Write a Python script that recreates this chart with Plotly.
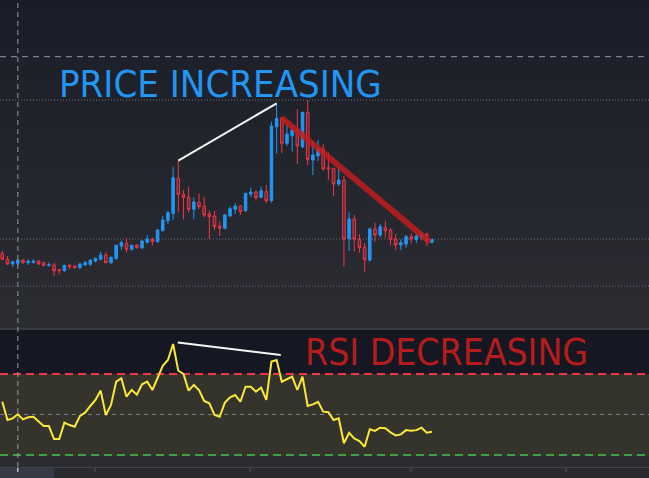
import plotly.graph_objects as go

W, H = 649, 478

# ---- data ----
idx = list(range(84))
opens = [7.67, 7.07, 6.60, 6.67, 7.00, 6.73, 6.73, 6.90, 6.73, 6.47,
         6.50, 6.03, 5.93, 6.50, 6.40, 6.23, 6.50, 6.57, 6.90, 7.07,
         7.50, 6.73, 7.17, 8.40, 8.67, 8.07, 8.50, 8.20, 8.77, 9.07,
         8.83, 9.93, 10.93, 11.67, 15.17, 13.57, 13.27, 12.07, 12.77, 12.40,
         11.60, 11.40, 10.40, 10.17, 11.40, 12.07, 12.40, 11.93, 13.60, 13.80,
         13.27, 13.83, 12.93, 20.33, 21.17, 18.67, 19.43, 20.00, 18.33, 21.77,
         17.00, 17.40, 18.07, 16.23, 16.17, 14.60, 15.00, 9.10, 11.10, 9.07,
         8.27, 7.00, 10.10, 9.50, 10.23, 10.00, 9.10, 8.50, 8.60, 9.33,
         9.07, 9.27, 9.57, 8.77]
highs = [7.90, 7.40, 6.90, 7.00, 7.10, 7.07, 7.10, 7.00, 6.83, 6.77,
         6.73, 6.10, 6.53, 6.50, 6.43, 6.73, 6.90, 7.07, 7.23, 7.83,
         7.80, 7.33, 8.50, 8.93, 9.17, 8.53, 8.60, 9.00, 9.50, 9.23,
         10.10, 11.40, 11.93, 16.33, 16.93, 14.00, 14.33, 13.27, 13.67, 13.33,
         11.93, 11.93, 10.83, 11.60, 12.33, 12.67, 12.50, 13.73, 14.23, 13.93,
         14.33, 14.50, 20.83, 22.67, 21.33, 20.67, 20.50, 22.07, 21.77, 23.00,
         18.83, 19.00, 18.60, 17.77, 16.17, 16.10, 15.40, 11.77, 11.50, 9.60,
         8.67, 10.23, 10.73, 10.60, 10.90, 10.17, 9.60, 9.07, 9.50, 9.67,
         9.60, 9.83, 9.73, 9.07]
lows = [7.00, 6.50, 6.33, 6.40, 6.60, 6.50, 6.67, 6.50, 6.40, 6.33,
        5.43, 5.57, 5.83, 6.07, 6.10, 6.13, 6.43, 6.40, 6.77, 7.00,
        6.67, 6.60, 7.00, 8.00, 7.73, 7.93, 8.13, 8.13, 8.67, 8.47,
        8.73, 9.83, 10.60, 11.00, 11.77, 11.07, 11.73, 11.07, 12.10, 11.27,
        9.10, 10.00, 9.40, 10.07, 11.33, 11.60, 11.50, 11.83, 13.33, 12.93,
        13.17, 12.67, 12.73, 17.67, 17.67, 18.40, 17.83, 16.60, 18.17, 16.50,
        15.50, 16.90, 15.93, 15.00, 13.40, 14.40, 6.33, 7.90, 7.83, 7.73,
        5.83, 6.83, 8.83, 9.27, 9.23, 8.50, 8.00, 8.00, 8.23, 8.67,
        8.73, 9.07, 8.40, 8.67]
closes = [7.07, 6.60, 6.83, 7.00, 6.73, 6.87, 6.87, 6.60, 6.43, 6.53,
          5.93, 5.97, 6.47, 6.33, 6.27, 6.60, 6.73, 7.00, 7.17, 7.50,
          6.73, 7.27, 8.47, 8.73, 8.07, 8.47, 8.23, 8.90, 9.10, 8.83,
          10.00, 11.00, 11.73, 15.23, 13.57, 13.27, 12.07, 12.80, 12.33, 11.50,
          11.33, 10.33, 10.17, 11.50, 12.13, 12.40, 11.83, 13.67, 13.80, 13.23,
          13.93, 12.93, 20.40, 21.17, 18.67, 19.60, 20.00, 18.40, 21.77, 17.07,
          17.50, 18.07, 16.10, 16.13, 14.60, 15.00, 9.10, 11.10, 9.07, 8.23,
          7.00, 10.10, 9.50, 10.33, 9.93, 9.07, 8.50, 8.73, 9.33, 9.10,
          9.40, 9.57, 8.93, 9.07]
rsi = [56.3, 47.3, 48.1, 50.1, 47.6, 48.6, 48.9, 46.5, 44.3, 44.3,
       37.9, 37.9, 46.0, 44.8, 44.0, 49.3, 50.9, 54.2, 57.2, 61.8,
       49.8, 54.7, 66.2, 67.9, 58.8, 62.1, 59.8, 64.9, 66.2, 62.1,
       67.9, 74.0, 76.9, 84.8, 71.6, 70.0, 61.8, 64.6, 62.1, 56.7,
       55.5, 49.8, 48.9, 55.9, 58.5, 59.6, 56.3, 63.7, 63.7, 61.3,
       63.3, 57.2, 76.1, 76.9, 66.2, 67.4, 68.7, 62.1, 68.7, 54.2,
       55.0, 56.3, 51.4, 51.1, 47.3, 48.1, 35.8, 41.0, 38.2, 36.9,
       34.1, 42.7, 41.9, 43.5, 43.2, 41.2, 39.7, 40.2, 42.3, 42.0,
       42.3, 43.5, 41.0, 41.5]

price_line_x = [34, 53]          # white divergence line on price
price_line_y = [16.93, 22.67]
down_line_x = [54, 82.6]         # red falling trend line
down_line_y = [21.2, 8.8]
rsi_line_x = [33.9, 53.8]        # white line on RSI
rsi_line_y = [85.5, 79.4]
price_grid = [23.0, 9.1, 4.4]
rsi_levels = [70, 50, 30]
cross_x, cross_y = 3, 27.33
time_ticks = [17.9, 47.9, 78.96, 108.9]

X_RANGE = [-0.444, 124.94]
P_RANGE = [0.2, 33.0]
R_RANGE = [24.1, 91.7]

def py(px):
    return 1 - px / H

PRICE_DOM = [py(328), 1.0]
RSI_DOM = [py(467), py(330)]

fig = go.Figure()

fig.add_trace(go.Candlestick(
    x=idx, open=opens, high=highs, low=lows, close=closes,
    increasing=dict(line=dict(color="#2196f3", width=1), fillcolor="#2196f3"),
    decreasing=dict(line=dict(color="#f23645", width=1), fillcolor="rgba(242,54,69,0.28)"),
    whiskerwidth=0, xaxis="x", yaxis="y", showlegend=False, hoverinfo="skip"))

fig.add_trace(go.Scatter(x=price_line_x, y=price_line_y, mode="lines",
                         line=dict(color="#f5f5f5", width=2), xaxis="x", yaxis="y",
                         showlegend=False, hoverinfo="skip"))
fig.add_trace(go.Scatter(x=down_line_x, y=down_line_y, mode="lines",
                         line=dict(color="rgba(198,28,28,0.82)", width=6), xaxis="x", yaxis="y",
                         showlegend=False, hoverinfo="skip"))

fig.add_trace(go.Scatter(x=idx, y=rsi, mode="lines",
                         line=dict(color="#fbe838", width=2), xaxis="x", yaxis="y2",
                         showlegend=False, hoverinfo="skip"))
fig.add_trace(go.Scatter(x=rsi_line_x, y=rsi_line_y, mode="lines",
                         line=dict(color="#f5f5f5", width=2), xaxis="x", yaxis="y2",
                         showlegend=False, hoverinfo="skip"))

shapes = []
# price pane gradient background
n = 33
top_c = (26, 29, 40)
bot_c = (44, 45, 50)
for k in range(n):
    y0 = k * 10
    y1 = min(328, (k + 1) * 10)
    t = (y0 + 5) / 328
    c = tuple(int(round(top_c[j] + (bot_c[j] - top_c[j]) * t)) for j in range(3))
    shapes.append(dict(type="rect", xref="paper", yref="paper", x0=0, x1=1,
                       y0=py(y1), y1=py(y0), line=dict(width=0),
                       fillcolor="rgb(%d,%d,%d)" % c, layer="below"))
# separator between panes
shapes.append(dict(type="rect", xref="paper", yref="paper", x0=0, x1=1,
                   y0=py(330), y1=py(328), line=dict(width=0), fillcolor="#3a3b41", layer="below"))
# RSI pane background
shapes.append(dict(type="rect", xref="paper", yref="paper", x0=0, x1=1,
                   y0=RSI_DOM[0], y1=RSI_DOM[1], line=dict(width=0), fillcolor="#151823", layer="below"))
shapes.append(dict(type="rect", xref="paper", yref="y2", x0=0, x1=1,
                   y0=R_RANGE[0], y1=30, line=dict(width=0), fillcolor="#2b2c31", layer="below"))
shapes.append(dict(type="rect", xref="paper", yref="y2", x0=0, x1=1,
                   y0=29.3, y1=70, line=dict(width=0), fillcolor="#34342d", layer="below"))
# bottom border of RSI pane
shapes.append(dict(type="line", xref="paper", yref="paper", x0=0, x1=1,
                   y0=py(467.5), y1=py(467.5), line=dict(color="#45464c", width=1)))

# price grid lines (dotted)
for g in price_grid:
    shapes.append(dict(type="line", xref="paper", yref="y", x0=0, x1=1, y0=g, y1=g,
                       line=dict(color="#6a6d78", width=1, dash="1px,2px"), layer="below"))
# RSI levels
lvl_style = {70: ("#f23645", "8px,5px", 2), 50: ("#7b7e88", "4px,4px", 1), 30: ("#43a047", "8px,5px", 2)}
for lv in rsi_levels:
    col, dsh, wd = lvl_style[lv]
    shapes.append(dict(type="line", xref="paper", yref="y2", x0=0, x1=1, y0=lv, y1=lv,
                       line=dict(color=col, width=wd, dash=dsh), layer="below"))

# crosshair
shapes.append(dict(type="line", xref="paper", yref="y", x0=0, x1=1, y0=cross_y, y1=cross_y,
                   line=dict(color="#9598a1", width=1, dash="6px,5px")))
shapes.append(dict(type="line", xref="x", yref="paper", x0=cross_x, x1=cross_x, y0=py(467), y1=1,
                   line=dict(color="#9598a1", width=1, dash="5px,4px")))

# time axis strip: crosshair label box and ticks
shapes.append(dict(type="rect", xref="paper", yref="paper", x0=0, x1=54 / W,
                   y0=0, y1=py(468), line=dict(width=0), fillcolor="#363a45"))
shapes.append(dict(type="line", xref="x", yref="paper", x0=cross_x, x1=cross_x,
                   y0=py(472), y1=py(468), line=dict(color="#ffffff", width=1)))
for tx in time_ticks:
    shapes.append(dict(type="line", xref="x", yref="paper", x0=tx, x1=tx,
                       y0=py(472), y1=py(468), line=dict(color="#55575e", width=1)))

FONT = "DejaVu Sans Condensed, Liberation Sans Narrow, Noto Sans"
annotations = [
    dict(text="PRICE INCREASING", xref="x", yref="y", x=10.6, y=24.6,
         xanchor="left", yanchor="middle", showarrow=False,
         font=dict(family=FONT, size=38, color="#2196f3")),
    dict(text="RSI DECREASING", xref="x", yref="y2", x=58.0, y=80.6,
         xanchor="left", yanchor="middle", showarrow=False,
         font=dict(family=FONT, size=37, color="#b71c1c")),
]

fig.update_layout(
    width=W, height=H, margin=dict(l=0, r=0, t=0, b=0),
    paper_bgcolor="#2a2b30", plot_bgcolor="rgba(0,0,0,0)",
    showlegend=False, shapes=shapes, annotations=annotations,
    xaxis=dict(domain=[0, 1], range=X_RANGE, anchor="y2", showgrid=False, zeroline=False,
               showticklabels=False, showline=False, ticks="", rangeslider=dict(visible=False),
               fixedrange=True),
    yaxis=dict(domain=PRICE_DOM, range=P_RANGE, showgrid=False, zeroline=False,
               showticklabels=False, showline=False, ticks="", fixedrange=True),
    yaxis2=dict(domain=RSI_DOM, range=R_RANGE, showgrid=False, zeroline=False,
                showticklabels=False, showline=False, ticks="", fixedrange=True),
)

fig.write_html("out.html", config={"displayModeBar": False},
               post_script="document.body.style.margin='0';document.body.style.padding='0';"
                           "document.body.style.background='#2a2b30';")
